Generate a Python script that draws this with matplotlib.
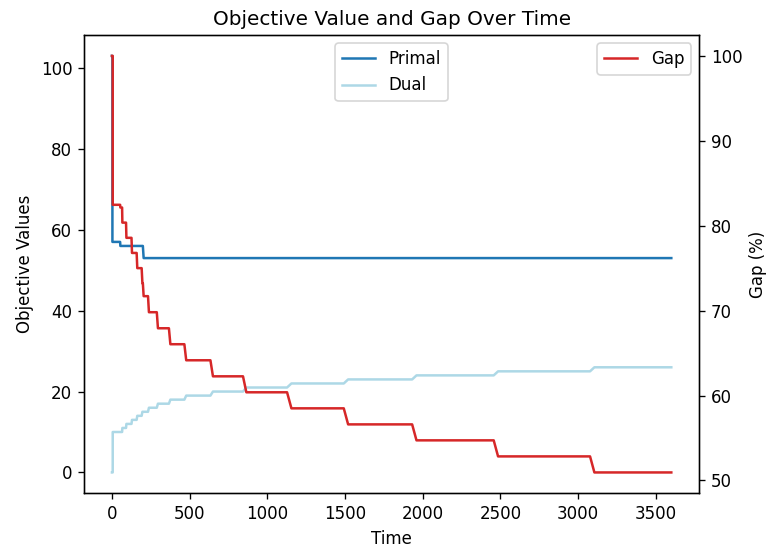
import matplotlib
matplotlib.use("Agg")
import matplotlib.pyplot as plt
import numpy as np

# Event times (s) and values after each event (values hold until next event)
primal_times = [0, 3, 54, 204, 3600]
primal_vals = [103, 57, 56, 53, 53]

dual_times = [0, 5, 67, 93, 129, 163, 196, 238, 296, 376, 478, 650, 865, 1155,
              1520, 1960, 2485, 3105, 3600]
dual_vals = [0, 10, 11, 12, 13, 14, 15, 16, 17, 18, 19, 20, 21, 22,
             23, 24, 25, 26, 26]

gap_times = [0, 5, 54, 67, 93, 129, 163, 196, 204, 238, 296, 376, 478, 650, 865,
             1155, 1520, 1960, 2485, 3105, 3600]
gap_vals = [100, 82.46, 82.14, 80.36, 78.57, 76.79, 75.0, 73.21, 71.70, 69.81,
            67.92, 66.04, 64.15, 62.26, 60.38, 58.49, 56.60, 54.72, 52.83, 50.94,
            50.94]


def stepped(times, vals):
    xs, ys = [times[0]], [vals[0]]
    for i in range(1, len(times)):
        ramp = min(28.0, 0.025 * times[i]) if i < len(times) - 1 else 0
        start = times[i] - ramp
        if start > xs[-1]:
            xs.append(start)
            ys.append(vals[i - 1])
        xs.append(times[i])
        ys.append(vals[i])
    return xs, ys


DPI = 120
fig, ax1 = plt.subplots(figsize=(767 / DPI, 549 / DPI), dpi=DPI)
fig.subplots_adjust(left=0.1095, right=0.9117, top=0.9362, bottom=0.1015)

px, py = stepped(primal_times, primal_vals)
dx, dy = stepped(dual_times, dual_vals)
gx, gy = stepped(gap_times, gap_vals)

ax1.plot(px, py, color="#1f77b4", label="Primal")
ax1.plot(dx, dy, color="lightblue", label="Dual")
ax1.set_xlabel("Time")
ax1.set_ylabel("Objective Values")
ax1.legend(loc="upper center")

ax2 = ax1.twinx()
ax2.plot(gx, gy, color="#d62728", label="Gap")
ax2.set_ylabel("Gap (%)")
ax2.legend(loc="upper right")

ax1.set_title("Objective Value and Gap Over Time")

fig.savefig("out.png", dpi=DPI)
